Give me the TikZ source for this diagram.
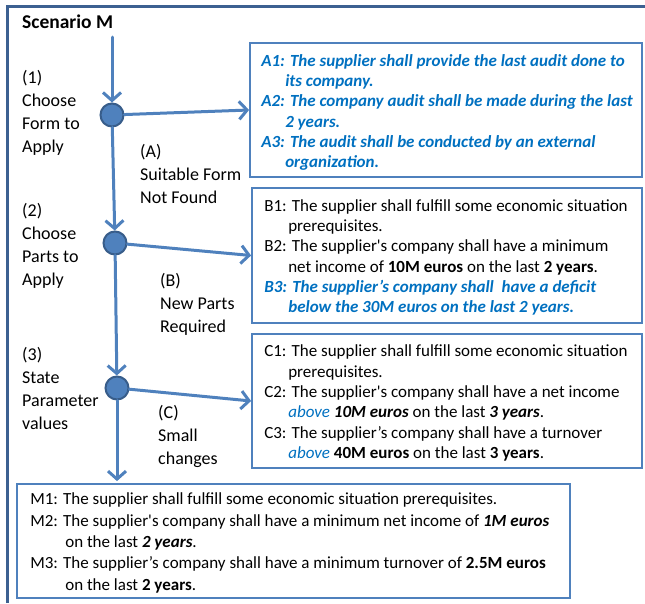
\documentclass[tikz,border=0pt]{standalone}
\usepackage{fontspec}
\setmainfont{Carlito}
\usetikzlibrary{arrows.meta,positioning,calc}
\definecolor{flowcolor}{RGB}{79,129,189}
\definecolor{framecolor}{RGB}{60,96,145}
\definecolor{edgecolor}{RGB}{56,93,138}
\definecolor{reqcolor}{RGB}{0,112,192}
\newcommand{\sq}{\textquotesingle}
\newcommand{\req}[1]{{\color{reqcolor}\bfseries\itshape #1}}

\begin{document}
\begin{tikzpicture}[x=1pt, y=-1pt,
    flow/.style={flowcolor, line width=3pt, line cap=round, -{Straight Barb[length=8pt,width=18pt]}},
    choice/.style={circle, fill=flowcolor, draw=edgecolor, line width=2pt, minimum size=23pt, inner sep=0pt},
    reqbox/.style={draw=flowcolor, line width=1.8pt, inner sep=0pt},
    reqtext/.style={align=left, inner sep=0pt, anchor=west, font=\fontsize{17}{20.3}\selectfont},
    steplabel/.style={align=left, inner sep=0pt, anchor=north west, font=\fontsize{18}{23}\selectfont}]
  \useasboundingbox (0,0) rectangle (645,603);
  % outer frame, only top and left edges show
  \draw[framecolor, line width=3pt] (7,603) -- (7,6) -- (645,6);
  \node[anchor=west, inner sep=0pt, font=\fontsize{19.5}{23}\selectfont\bfseries] (title) at (22,22) {Scenario M};
  \coordinate (start) at (112,37);
  % decision points
  \node[choice] (c1) at (112,115) {};
  \node[choice] (c2) at (115,243) {};
  \node[choice] (c3) at (117,388) {};
  % step labels
  \node[steplabel] (s1) at (22,70) {(1)\\Choose\\Form to\\Apply};
  \node[steplabel] (s2) at (22,203) {(2)\\Choose\\Parts to\\Apply};
  \node[steplabel] (s3) at (22,347) {(3)\\State\\Parameter\\values};
  \node[steplabel] (la) at (140,144) {(A)\\Suitable Form\\Not Found};
  \node[steplabel] (lb) at (160,273) {(B)\\New Parts\\Required};
  \node[steplabel] (lc) at (158,405) {(C)\\Small\\changes};
  % requirement boxes
  \node[reqbox, minimum width=392pt, minimum height=134pt] (boxA) at (446,110) {};
  \node[reqbox, minimum width=390pt, minimum height=135pt] (boxB) at (447,255.5) {};
  \node[reqbox, minimum width=390pt, minimum height=134pt] (boxC) at (447,401) {};
  \node[reqbox, minimum width=553pt, minimum height=114pt] (boxM) at (293.5,541) {};
  \node[reqtext] (txtA) at ([xshift=12pt,yshift=-2.5pt]boxA.west) {%
    \req{A1: The supplier shall provide the last audit done to}\\
    \hspace*{1.41em}\req{its company.}\\
    \req{A2: The company audit shall be made during the last}\\
    \hspace*{1.41em}\req{2 years.}\\
    \req{A3: The audit shall be conducted by an external}\\
    \hspace*{1.41em}\req{organization.}};
  \node[reqtext] (txtB) at ([xshift=13pt,yshift=-2pt]boxB.west) {%
    B1: The supplier shall fulfill some economic situation\\
    \hspace*{1.41em}prerequisites.\\
    B2: The supplier\sq s company shall have a minimum\\
    \hspace*{1.41em}net income of \textbf{10M euros} on the last \textbf{2 years}.\\
    \req{B3: The supplier’s company shall\ \ have a deficit}\\
    \hspace*{1.41em}\req{below the 30M euros on the last 2 years.}};
  \node[reqtext] (txtC) at ([xshift=13pt,yshift=-2pt]boxC.west) {%
    C1: The supplier shall fulfill some economic situation\\
    \hspace*{1.41em}prerequisites.\\
    C2: The supplier\sq s company shall have a net income\\
    \hspace*{1.41em}{\color{reqcolor}\itshape above} \textbf{\itshape 10M euros} on the last \textbf{\itshape 3 years}.\\
    C3: The supplier’s company shall have a turnover\\
    \hspace*{1.41em}{\color{reqcolor}\itshape above} \textbf{40M euros} on the last \textbf{3 years}.};
  \node[reqtext, font=\fontsize{17}{21.4}\selectfont] (txtM) at ([xshift=14pt,yshift=-2pt]boxM.west) {%
    M1: The supplier shall fulfill some economic situation prerequisites.\\
    M2: The supplier\sq s company shall have a minimum net income of \textbf{\itshape 1M euros}\\
    \hspace*{2.06em}on the last \textbf{\itshape 2 years}.\\
    M3: The supplier’s company shall have a minimum turnover of \textbf{2.5M euros}\\
    \hspace*{2.06em}on the last \textbf{2 years}.};
  % flow arrows
  \coordinate (mIn) at (c3 |- boxM.north);
  \draw[flow] (start) -- (c1);
  \draw[flow] (c1) -- (c2);
  \draw[flow] (c2) -- (c3);
  \draw[flow] (c3) -- ([yshift=2pt]mIn);
  \draw[flow] (c1) -- (boxA.west);
  \draw[flow] (c2) -- (boxB.west);
  \draw[flow] (c3) -- (boxC.west);
\end{tikzpicture}
\end{document}
